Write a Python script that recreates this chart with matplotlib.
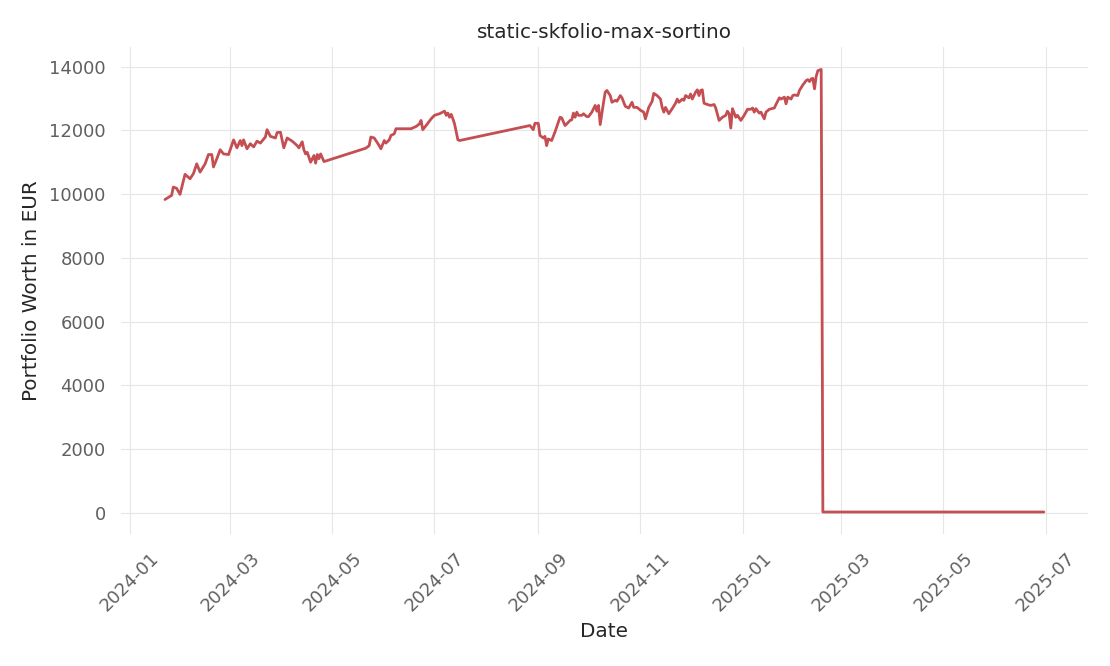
import numpy as np
import pandas as pd
import matplotlib
matplotlib.use("Agg")
import matplotlib.pyplot as plt
import matplotlib.dates as mdates
import seaborn as sns

# values; day offsets count from start_date
start_date = "2024-01-01"
day_offset = [
    21, 25, 26, 28, 30, 33, 36, 38, 40, 42, 45, 47, 49, 50, 52, 54, 56, 59, 62, 64,
    66, 67, 68, 70, 72, 74, 76, 78, 81, 82, 84, 87, 88, 90, 92, 94, 97, 100, 101, 103,
    104, 105, 106, 108, 110, 111, 112, 113, 114, 116, 141, 143, 144, 146, 149, 150, 152, 153, 155, 156,
    158, 159, 168, 171, 173, 174, 175, 177, 180, 182, 185, 188, 189, 190, 191, 192, 193, 194, 196, 197,
    239, 241, 242, 244, 245, 247, 248, 249, 250, 252, 254, 257, 258, 260, 261, 263, 264, 265, 266, 267,
    268, 270, 271, 273, 274, 276, 278, 279, 280, 281, 283, 284, 285, 287, 288, 290, 291, 293, 294, 296,
    298, 300, 301, 303, 305, 307, 308, 310, 312, 313, 315, 317, 318, 319, 320, 322, 324, 326, 327, 328,
    330, 331, 332, 334, 335, 336, 338, 339, 340, 341, 342, 343, 345, 347, 349, 350, 352, 354, 356, 357,
    358, 359, 360, 362, 363, 365, 367, 369, 371, 372, 373, 374, 376, 377, 379, 380, 382, 385, 386, 388,
    389, 391, 392, 393, 395, 396, 397, 399, 400, 402, 404, 405, 406, 407, 408, 409, 410, 411, 413, 414,
    546,
]
worth_eur = [
    9830, 9960, 10220, 10180, 9990, 10620, 10480, 10640, 10950, 10690, 10950, 11240, 11240, 10850, 11110, 11390, 11260, 11240, 11700, 11450,
    11680, 11520, 11700, 11420, 11580, 11480, 11660, 11600, 11790, 12020, 11810, 11760, 11930, 11940, 11450, 11760, 11660, 11520, 11450, 11640,
    11390, 11260, 11310, 11000, 11210, 10970, 11240, 11110, 11260, 11020, 11440, 11520, 11790, 11760, 11520, 11420, 11680, 11600, 11700, 11840,
    11890, 12050, 12050, 12120, 12200, 12310, 12020, 12150, 12360, 12470, 12520, 12600, 12470, 12540, 12410, 12500, 12360, 12200, 11700, 11680,
    12150, 12020, 12220, 12220, 11840, 11760, 11810, 11520, 11730, 11680, 11950, 12410, 12390, 12150, 12200, 12310, 12330, 12540, 12410, 12570,
    12470, 12470, 12520, 12430, 12430, 12570, 12780, 12600, 12780, 12180, 12880, 13200, 13250, 13090, 12880, 12940, 12910, 13090, 13020, 12750,
    12700, 12880, 12720, 12720, 12630, 12570, 12360, 12720, 12910, 13160, 13090, 12980, 12720, 12570, 12720, 12520, 12680, 12850, 12980, 12880,
    12980, 12940, 13090, 13020, 13140, 12980, 13200, 13270, 13090, 13250, 13270, 12850, 12810, 12780, 12810, 12700, 12310, 12410, 12470, 12600,
    12520, 12070, 12680, 12410, 12470, 12310, 12470, 12660, 12660, 12700, 12570, 12680, 12540, 12570, 12360, 12570, 12660, 12700, 12810, 13020,
    12980, 13040, 12830, 13040, 12980, 13090, 13110, 13090, 13250, 13420, 13560, 13590, 13530, 13610, 13630, 13300, 13690, 13870, 13910, 30,
    30,
]

dates = pd.Timestamp(start_date) + pd.to_timedelta(day_offset, unit="D")
worth = pd.Series(worth_eur, index=dates)

sns.set_style("whitegrid", {"grid.color": "#e6e6e6"})
plt.rcParams["font.family"] = ["DejaVu Sans"]

fig, ax = plt.subplots(figsize=(11.1, 6.66), dpi=100)
fig.subplots_adjust(left=0.109, right=0.980, top=0.929, bottom=0.198)

ax.plot(worth.index, worth.values, color="#c44e52", linewidth=2)

ax.xaxis.set_major_locator(mdates.MonthLocator(bymonth=[1, 3, 5, 7, 9, 11]))
ax.xaxis.set_major_formatter(mdates.DateFormatter("%Y-%m"))
ax.set_yticks(np.arange(0, 14001, 2000))

ax.tick_params(axis="both", labelsize=13, labelcolor="#606060", length=0, pad=11)
plt.setp(ax.get_xticklabels(), rotation=45)

ax.set_xlabel("Date", fontsize=14.4, color="#262626", labelpad=5)
ax.set_ylabel("Portfolio Worth in EUR", fontsize=14.4, color="#262626", labelpad=6)
ax.set_title("static-skfolio-max-sortino", fontsize=14.4, color="#262626", pad=7)

sns.despine(left=True, bottom=True)

fig.savefig("out.png", dpi=100)
